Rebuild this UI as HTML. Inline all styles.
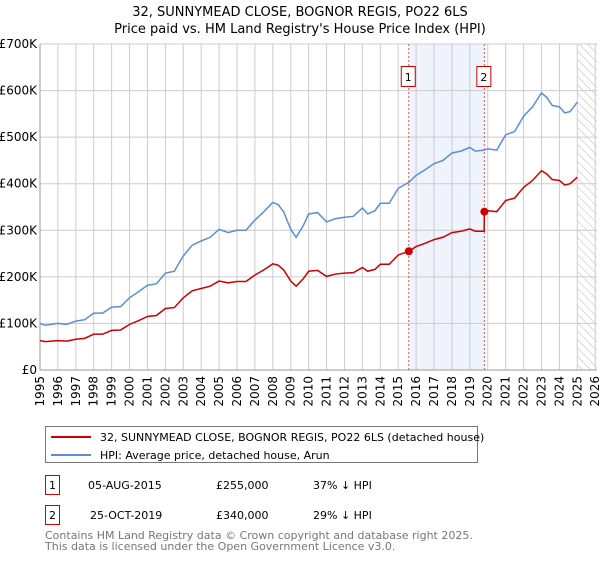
<!DOCTYPE html>
<html><head><meta charset="utf-8"><style>
body{margin:0;background:#fff;font-family:"Liberation Sans","DejaVu Sans",sans-serif;}
svg text{font-family:"DejaVu Sans","Liberation Sans",sans-serif;}
</style></head><body>
<svg id="c" width="600" height="560" viewBox="0 0 600 560" xmlns="http://www.w3.org/2000/svg">
<defs><pattern id="hatch" width="6" height="6" patternUnits="userSpaceOnUse" patternTransform="rotate(-45)"><line x1="0" y1="0" x2="0" y2="6" stroke="#bbb" stroke-width="1"/></pattern></defs>
<text x="300" y="16" text-anchor="middle" font-size="13">32, SUNNYMEAD CLOSE, BOGNOR REGIS, PO22 6LS</text>
<text x="300" y="33" text-anchor="middle" font-size="13">Price paid vs. HM Land Registry's House Price Index (HPI)</text>
<g id="plot"></g>
<g>
<rect x="45.5" y="426.5" width="432" height="36" fill="#fff" stroke="#777"/>
<line x1="51" y1="437" x2="91" y2="437" stroke="#cc0000" stroke-width="2"/>
<text x="100" y="441" font-size="11">32, SUNNYMEAD CLOSE, BOGNOR REGIS, PO22 6LS (detached house)</text>
<line x1="51" y1="455" x2="91" y2="455" stroke="#5b8ed6" stroke-width="2"/>
<text x="100" y="459" font-size="11">HPI: Average price, detached house, Arun</text>
</g>
<g font-size="11">
<rect x="45.5" y="475.5" width="14" height="19" fill="#fff" stroke="#cc0000"/>
<text x="52.5" y="489" text-anchor="middle">1</text>
<text x="88" y="489">05-AUG-2015</text><text x="216" y="489">£255,000</text><text x="313" y="489">37% ↓ HPI</text>
<rect x="45.5" y="505.5" width="14" height="19" fill="#fff" stroke="#cc0000"/>
<text x="52.5" y="519" text-anchor="middle">2</text>
<text x="90" y="519">25-OCT-2019</text><text x="216" y="519">£340,000</text><text x="313" y="519">29% ↓ HPI</text>
</g>
<text x="45" y="539" font-size="11" fill="#777">Contains HM Land Registry data © Crown copyright and database right 2025.</text>
<text x="45" y="550" font-size="11" fill="#777">This data is licensed under the Open Government Licence v3.0.</text>
</svg>
<script>
const hpiDates=[1995.0,1995.3,1996,1996.5,1997,1997.5,1998,1998.5,1999,1999.5,2000,2000.5,2001,2001.5,2002,2002.5,2003,2003.5,2004,2004.5,2005,2005.5,2006,2006.5,2007,2007.5,2008,2008.3,2008.6,2009,2009.3,2009.7,2010,2010.5,2011,2011.5,2012,2012.5,2013,2013.3,2013.7,2014,2014.5,2015,2015.6,2016,2016.5,2017,2017.5,2018,2018.5,2019,2019.3,2019.8,2020,2020.5,2021,2021.5,2022,2022.5,2023,2023.3,2023.6,2024,2024.3,2024.6,2025];
const hpiValues=[100,96,100,98,105,108,122,122,135,136,155,168,182,185,208,212,245,268,277,285,302,295,300,300,322,340,360,355,340,302,285,310,335,338,318,325,328,330,348,335,342,358,358,390,403,418,430,443,450,466,470,478,470,472,475,472,505,512,545,565,595,585,568,565,552,555,575];
const redDates=[1995.0,1995.3,1996,1996.5,1997,1997.5,1998,1998.5,1999,1999.5,2000,2000.5,2001,2001.5,2002,2002.5,2003,2003.5,2004,2004.5,2005,2005.5,2006,2006.5,2007,2007.5,2008,2008.3,2008.6,2009,2009.3,2009.7,2010,2010.5,2011,2011.5,2012,2012.5,2013,2013.3,2013.7,2014,2014.5,2015,2015.6,2016,2016.5,2017,2017.5,2018,2018.5,2019,2019.3,2019.8,2019.81,2020,2020.5,2021,2021.5,2022,2022.5,2023,2023.3,2023.6,2024,2024.3,2024.6,2025];
const redValues=[63,61,63,62,66,68,77,77,85,86,98,106,115,117,132,134,155,170,175,180,191,187,190,190,204,215,228,225,215,191,180,196,212,214,201,206,208,209,220,212,216,227,227,247,255,265,272,280,285,295,298,303,298,298,340,342,340,364,369,392,407,428,421,409,407,397,400,414];
const saleDates=[2015.59,2019.81];
const saleValues=[255,340];
const saleLabels=["1","2"];
const yTicks=[0,100,200,300,400,500,600,700];
const yTickLabels=["£0","£100K","£200K","£300K","£400K","£500K","£600K","£700K"];
const xYears=[1995,1996,1997,1998,1999,2000,2001,2002,2003,2004,2005,2006,2007,2008,2009,2010,2011,2012,2013,2014,2015,2016,2017,2018,2019,2020,2021,2022,2023,2024,2025,2026];

const L=40,R=597,T=44,B=370,x0=1995,x1=2026.1;
const X=d=>L+(d-x0)/(x1-x0)*(R-L);
const Y=v=>B-v/700*(B-T);
const NS="http://www.w3.org/2000/svg";
const g=document.getElementById('plot');
function mk(tag,attrs,parent){const e=document.createElementNS(NS,tag);for(const k in attrs)e.setAttribute(k,attrs[k]);(parent||g).appendChild(e);return e;}

const shade=mk('rect',{x:X(saleDates[0]),y:T,width:X(saleDates[1])-X(saleDates[0]),height:B-T,fill:'#eef3fc'});


const hatch=mk('rect',{x:X(2025.0),y:T,width:R-X(2025.0),height:B-T,fill:'url(#hatch)'});



yTicks.forEach((v,i)=>{
  const ln=mk('line',{x1:L,x2:R,y1:Y(v),y2:Y(v),stroke:'#ccc','stroke-width':1});
  
  
  const t=mk('text',{x:L-3,y:Y(v)+4,'text-anchor':'end','font-size':12});
  t.textContent=yTickLabels[i];
  
  
});
xYears.forEach(yr=>{
  const ln=mk('line',{x1:X(yr),x2:X(yr),y1:T,y2:B,stroke:'#ccc','stroke-width':1});
  
  
  const t=mk('text',{x:0,y:0,'text-anchor':'end','font-size':12,transform:`translate(${X(yr)+4},${B+6}) rotate(-90)`});
  t.textContent=yr;
  
  
});
const ax=mk('path',{d:`M${L},${T}V${B}H${R}`,fill:'none',stroke:'#999'});



saleDates.forEach((d,i)=>{
  const ln=mk('line',{x1:X(d),x2:X(d),y1:T,y2:B,stroke:'#e05555','stroke-dasharray':'2,2','stroke-width':1});
  
  
  const r=mk('rect',{x:X(d)-7.5,y:66.5,width:14,height:20,fill:'#fff',stroke:'#cc0000'});
  
  
  const t=mk('text',{x:X(d)-0.5,y:81,'text-anchor':'middle','font-size':11});
  t.textContent=saleLabels[i];
  
  
});

const hp=mk('polyline',{points:hpiDates.map((d,i)=>X(d)+','+Y(hpiValues[i])).join(' '),fill:'none',stroke:'#5b8ed6','stroke-width':1.5});


const rp=mk('polyline',{points:redDates.map((d,i)=>X(d)+','+Y(redValues[i])).join(' '),fill:'none',stroke:'#cc0000','stroke-width':1.5});


saleDates.forEach((d,i)=>{
  const c=mk('circle',{cx:X(d),cy:Y(saleValues[i]),r:4,fill:'#cc0000'});
  
  
});
</script>
</body></html>
